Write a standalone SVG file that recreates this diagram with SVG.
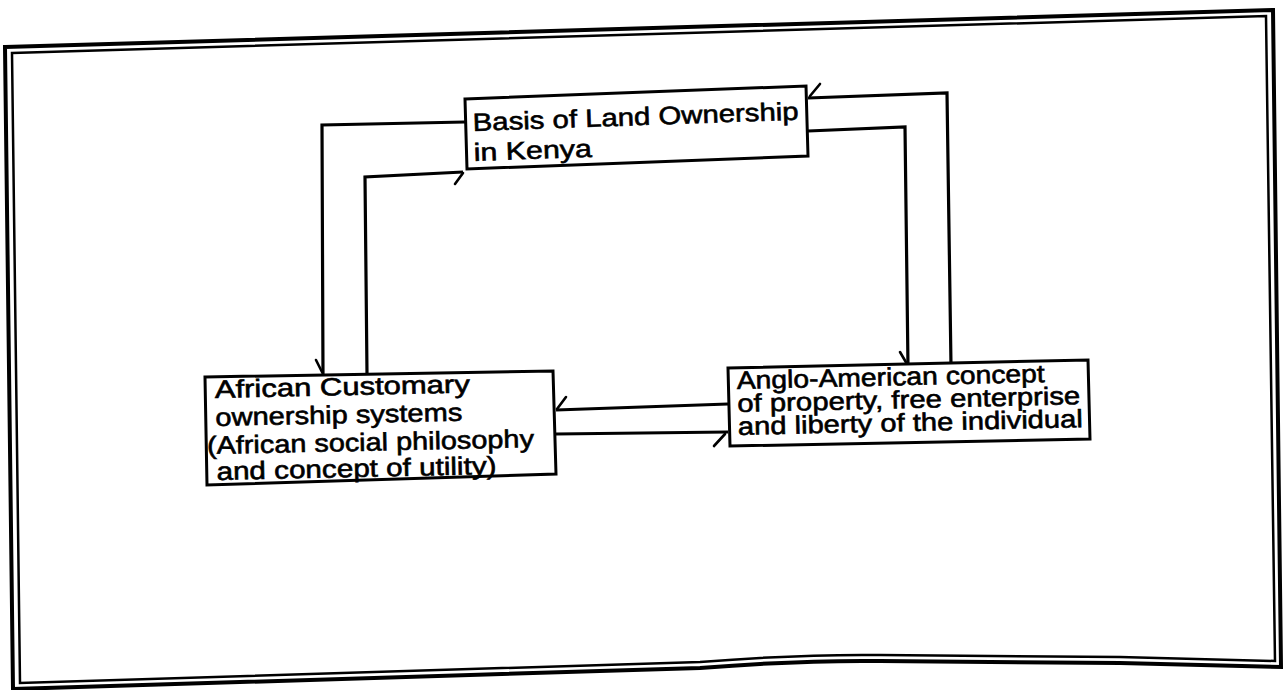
<svg xmlns="http://www.w3.org/2000/svg" width="1285" height="690" viewBox="0 0 1285 690">
  <style>
    .frame { fill: none; stroke: #000; stroke-linejoin: miter; }
    .box { fill: #fff; stroke: #000; stroke-width: 3; stroke-linejoin: miter; }
    .wire { fill: none; stroke: #000; stroke-width: 3.2; stroke-linejoin: miter; }
    .tick { fill: none; stroke: #000; stroke-width: 2.6; stroke-linecap: round; }
    .lbl { font-family: "Liberation Sans", Arial, Helvetica, sans-serif; font-size: 25px; fill: #000; stroke: #000; stroke-width: 0.6; }
  </style>
  <rect width="1285" height="690" fill="#fff"/>

  <!-- page border: double rule, slightly skewed -->
  <g id="border">
    <path class="frame" stroke-width="4" d="M5,47 L1273,10 L1281,667 L1120,663 L880,661 Q800,660 700,668 L13,689 Z"/>
    <path class="frame" stroke-width="2.5" d="M12,53 L1266,16 L1275,661 L1120,657 L880,655 Q800,654 700,662 L20,683 Z"/>
  </g>

  <!-- connectors -->
  <g id="connectors">
    <!-- top node -> African customary (outer left loop) -->
    <polyline class="wire" points="465,122 322,125 323,376"/>
    <line class="tick" x1="316" y1="360" x2="322" y2="372"/>
    <!-- African customary -> top node (inner left loop) -->
    <polyline class="wire" points="367,374 365,177 463,172"/>
    <line class="tick" x1="455" y1="184" x2="463" y2="173"/>
    <!-- Anglo-American -> top node (outer right loop) -->
    <polyline class="wire" points="951,366 947,93 808,98"/>
    <line class="tick" x1="820" y1="84" x2="810" y2="96"/>
    <!-- top node -> Anglo-American (inner right loop) -->
    <polyline class="wire" points="808,131 905,127 908,367"/>
    <line class="tick" x1="900" y1="352" x2="907" y2="364"/>
    <!-- Anglo-American -> African customary -->
    <line class="wire" x1="728" y1="404" x2="556" y2="410"/>
    <line class="tick" x1="566" y1="397" x2="557" y2="409"/>
    <!-- African customary -> Anglo-American -->
    <line class="wire" x1="556" y1="434" x2="728" y2="432"/>
    <line class="tick" x1="714" y1="446" x2="725" y2="434"/>
  </g>

  <!-- Basis of Land Ownership in Kenya -->
  <g id="node-basis">
    <polygon class="box" points="465,99 806,86 808,156 467,169"/>
    <g transform="rotate(-2 472 130)">
      <text class="lbl" x="473" y="131" textLength="326" lengthAdjust="spacingAndGlyphs">Basis of Land Ownership</text>
      <text class="lbl" x="473" y="161" textLength="118" lengthAdjust="spacingAndGlyphs">in Kenya</text>
    </g>
  </g>

  <!-- African Customary ownership systems -->
  <g id="node-african">
    <polygon class="box" points="205,377 553,371 556,474 207,485"/>
    <g transform="rotate(-1.2 210 400)">
      <text class="lbl" x="215" y="398" textLength="255" lengthAdjust="spacingAndGlyphs">African Customary</text>
      <text class="lbl" x="215" y="426" textLength="247" lengthAdjust="spacingAndGlyphs">ownership systems</text>
      <text class="lbl" x="206" y="454" textLength="327" lengthAdjust="spacingAndGlyphs">(African social philosophy</text>
      <text class="lbl" x="215" y="480" textLength="280" lengthAdjust="spacingAndGlyphs">and concept of utility)</text>
    </g>
  </g>

  <!-- Anglo-American concept of property -->
  <g id="node-anglo">
    <polygon class="box" points="728,368 1088,360 1090,439 730,446"/>
    <g transform="rotate(-1.3 735 390)">
      <text class="lbl" x="737" y="389" textLength="308" lengthAdjust="spacingAndGlyphs">Anglo-American concept</text>
      <text class="lbl" x="737" y="412" textLength="343" lengthAdjust="spacingAndGlyphs">of property, free enterprise</text>
      <text class="lbl" x="737" y="435" textLength="345" lengthAdjust="spacingAndGlyphs">and liberty of the individual</text>
    </g>
  </g>
</svg>
